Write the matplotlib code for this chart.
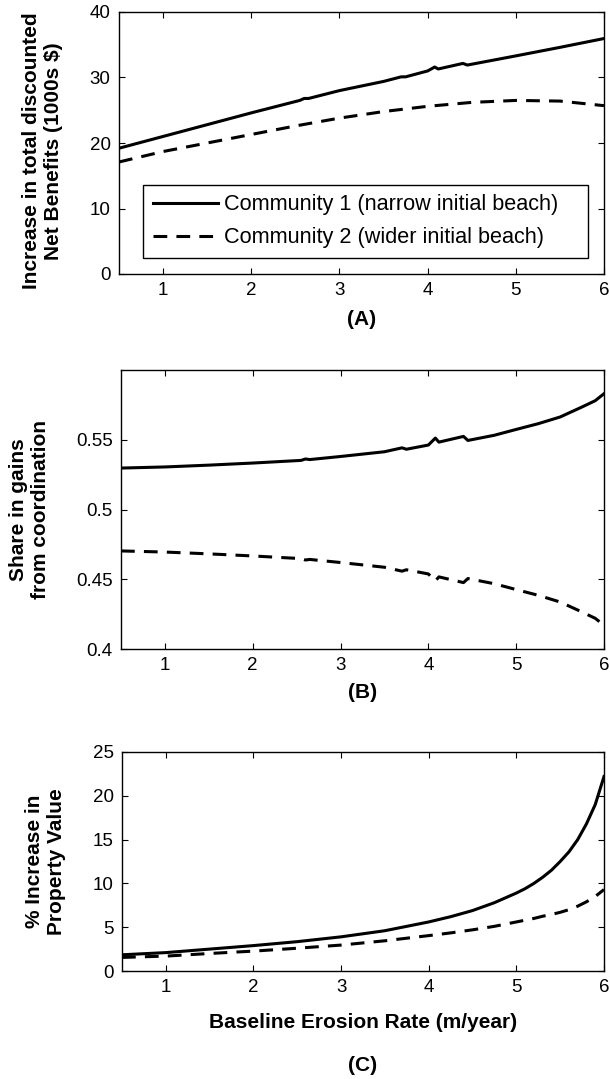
import matplotlib
matplotlib.use("Agg")
import matplotlib.pyplot as plt

plt.rcParams['font.family'] = ['Liberation Sans', 'DejaVu Sans']

# ---- data ----
xticks = [1, 2, 3, 4, 5, 6]

x_A1 = [0.5, 1.0, 1.5, 2.0, 2.55, 2.6, 2.65, 3.0, 3.5, 3.7, 3.75, 4.0, 4.08, 4.12, 4.4, 4.45, 5.0, 5.5, 6.0]
y_A1 = [19.2, 21.0, 22.8, 24.6, 26.5, 26.8, 26.8, 28.0, 29.4, 30.1, 30.1, 31.0, 31.6, 31.3, 32.15, 31.9, 33.3, 34.6, 35.95]
x_A2 = [0.5, 1.0, 1.5, 2.0, 2.5, 3.0, 3.5, 4.0, 4.5, 5.0, 5.5, 6.0]
y_A2 = [17.1, 18.7, 20.0, 21.3, 22.6, 23.8, 24.8, 25.6, 26.2, 26.5, 26.4, 25.7]

x_B = [0.5, 1.0, 1.5, 2.0, 2.55, 2.6, 2.65, 3.0, 3.5, 3.7, 3.75, 4.0, 4.08, 4.12, 4.4, 4.45,
       4.75, 5.0, 5.25, 5.5, 5.75, 5.9, 6.0]
y_B1 = [0.5297, 0.5305, 0.5318, 0.5333, 0.5352, 0.5362, 0.5358, 0.538, 0.5414, 0.5442, 0.5432, 0.5462,
        0.5512, 0.5483, 0.5524, 0.5495, 0.5532, 0.5574, 0.5615, 0.5663, 0.5735, 0.578, 0.583]
y_B2 = [0.4703, 0.4695, 0.4682, 0.4667, 0.4648, 0.4638, 0.4642, 0.462, 0.4586, 0.4558, 0.4568, 0.4538,
        0.4488, 0.4517, 0.4476, 0.4505, 0.4468, 0.4426, 0.4385, 0.4337, 0.4265, 0.422, 0.417]

x_C = [0.5, 1.0, 1.5, 2.0, 2.5, 3.0, 3.5, 4.0, 4.25, 4.5, 4.75, 5.0, 5.1, 5.2, 5.3, 5.4, 5.5,
       5.6, 5.7, 5.8, 5.9, 6.0]
y_C1 = [1.85, 2.1, 2.5, 2.9, 3.35, 3.9, 4.6, 5.6, 6.2, 6.9, 7.8, 8.9, 9.4, 10.0, 10.7, 11.5, 12.5,
        13.6, 15.0, 16.8, 19.0, 22.2]
y_C2 = [1.55, 1.7, 2.0, 2.27, 2.6, 2.96, 3.45, 4.04, 4.35, 4.7, 5.1, 5.6, 5.8, 6.0, 6.25, 6.45, 6.7,
        7.0, 7.4, 7.9, 8.5, 9.3]

labels = ['Community 1 (narrow initial beach)', 'Community 2 (wider initial beach)']

# ---- figure ----
W, H = 610, 1079
fig = plt.figure(figsize=(W / 100, H / 100), dpi=100)

def rect(l, r, t, b):
    return [l / W, 1 - b / H, (r - l) / W, (b - t) / H]

TICK_FS = 13.5
LAB_FS = 15
LEG_FS = 15.6
LW = 2.2
DASH = (4.5, 3.0)

def style(ax):
    ax.tick_params(direction='in', top=True, right=True, length=4, width=0.8,
                   labelsize=TICK_FS, pad=6)
    for s in ax.spines.values():
        s.set_linewidth(1.0)
    ax.set_xlim(0.5, 6)
    ax.set_xticks(xticks)

axA = fig.add_axes(rect(119, 604, 12, 274))
axA.plot(x_A1, y_A1, color='black', lw=LW, label=labels[0])
axA.plot(x_A2, y_A2, color='black', lw=LW, ls=(0, DASH), label=labels[1])
style(axA)
axA.set_ylim(0, 40)
axA.set_yticks([0, 10, 20, 30, 40])
axA.set_ylabel('Increase in total discounted\nNet Benefits (1000s $)', fontsize=LAB_FS,
               fontweight='bold', multialignment='center')
axA.yaxis.set_label_coords(-0.115, 0.47)
leg = axA.legend(loc='lower left', bbox_to_anchor=(0.049, 0.061, 0.918, 0.27), mode='expand',
                 fontsize=LEG_FS, fancybox=False, edgecolor='black', framealpha=1,
                 handlelength=3.0, borderpad=0.45, labelspacing=0.55, handletextpad=0.3,
                 borderaxespad=0)
leg.get_frame().set_linewidth(1.0)
axA.text(0.5, -0.175, '(A)', transform=axA.transAxes, ha='center', va='center',
         fontsize=LAB_FS, fontweight='bold')

axB = fig.add_axes(rect(121, 604, 370, 649))
axB.plot(x_B, y_B1, color='black', lw=LW)
axB.plot(x_B, y_B2, color='black', lw=LW, ls=(0, DASH))
style(axB)
axB.set_ylim(0.4, 0.6)
axB.set_yticks([0.4, 0.45, 0.5, 0.55])
axB.set_yticklabels(['0.4', '0.45', '0.5', '0.55'])
axB.set_ylabel('Share in gains\nfrom coordination', fontsize=LAB_FS,
               fontweight='bold', multialignment='center')
axB.yaxis.set_label_coords(-0.147, 0.5)
axB.text(0.5, -0.155, '(B)', transform=axB.transAxes, ha='center', va='center',
         fontsize=LAB_FS, fontweight='bold')

axC = fig.add_axes(rect(122, 604, 752, 971))
axC.plot(x_C, y_C1, color='black', lw=LW)
axC.plot(x_C, y_C2, color='black', lw=LW, ls=(0, DASH))
style(axC)
axC.set_ylim(0, 25)
axC.set_yticks([0, 5, 10, 15, 20, 25])
axC.set_ylabel('% Increase in\nProperty Value', fontsize=LAB_FS,
               fontweight='bold', multialignment='center')
axC.yaxis.set_label_coords(-0.116, 0.5)
axC.set_xlabel('Baseline Erosion Rate (m/year)', fontsize=LAB_FS, fontweight='bold')
axC.xaxis.set_label_coords(0.5, -0.193)
axC.text(0.5, -0.43, '(C)', transform=axC.transAxes, ha='center', va='center',
         fontsize=LAB_FS, fontweight='bold')

fig.savefig('out.png', dpi=100)
